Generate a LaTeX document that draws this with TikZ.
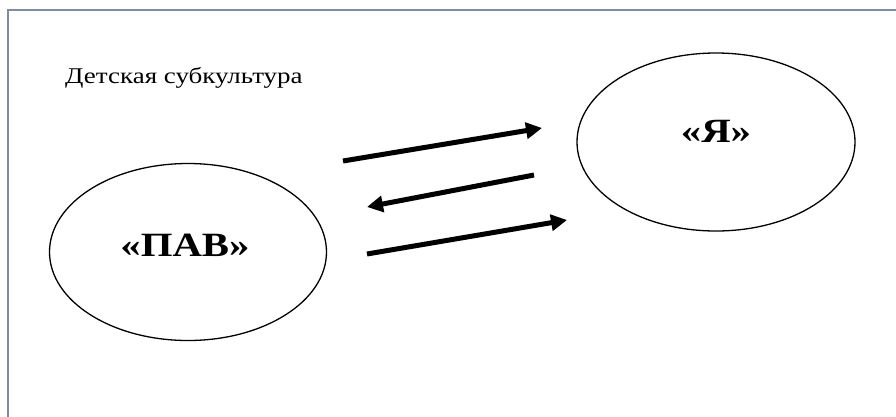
\documentclass[tikz,border=0pt]{standalone}
\usepackage{fontspec}
\setmainfont{Liberation Serif}
\newfontfamily\widefont[FakeStretch=1.2]{Liberation Serif}
\usetikzlibrary{arrows.meta,shapes.geometric}
\definecolor{frame}{HTML}{7D8CA3}
\tikzset{
  bubble/.style={draw=black, line width=1.3pt, ellipse, inner sep=0pt},
  flow/.style={line width=5pt, -{Triangle[length=16pt,width=16pt]}},
  big/.style={font=\widefont\bfseries\fontsize{34}{40}\selectfont},
}
\begin{document}
\begin{tikzpicture}[x=1pt,y=-1pt]
\useasboundingbox (0,0) rectangle (896,416);
\begin{scope}
\clip (0,0) rectangle (896,416);
\draw[frame, line width=2.2pt] (8,10) rectangle (920,440);
\end{scope}
\node[anchor=base west, font=\widefont\fontsize{22.5}{26}\selectfont, inner sep=0pt] (title) at (65,83) {Детская субкультура};
\node[bubble, minimum width=277pt, minimum height=177pt] (pav) at (188,252) {};
\node[big] (pavt) at (185,245) {«ПАВ»};
\node[bubble, minimum width=278pt, minimum height=178pt] (ya) at (716,142) {};
\node[big] (yat) at (716,131) {«Я»};
\coordinate (a1s) at (343,161);
\coordinate (a1e) at (542,128);
\coordinate (a2s) at (534,175);
\coordinate (a2e) at (367,207);
\coordinate (a3s) at (367,254);
\coordinate (a3e) at (567,220);
\draw[flow] (a1s) -- (a1e);
\draw[flow] (a2s) -- (a2e);
\draw[flow] (a3s) -- (a3e);
\end{tikzpicture}
\end{document}
